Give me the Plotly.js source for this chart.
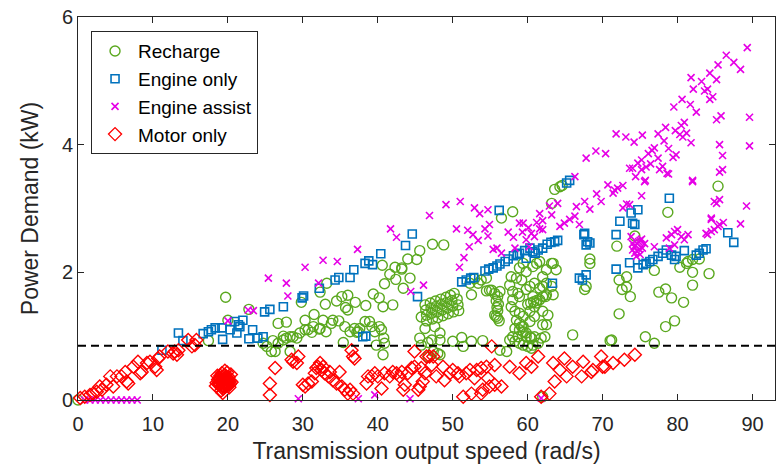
<!DOCTYPE html>
<html>
<head>
<meta charset="utf-8">
<script src="https://cdn.plot.ly/plotly-3.0.1.min.js"></script>
<style>html,body{margin:0;padding:0;background:#fff}#chart{width:776px;height:469px}</style>
</head>
<body>
<div id="chart"></div>
<script>
// ---- Data ----
const seriesNames = ["Recharge", "Engine only", "Engine assist", "Motor only"];
const xTickVals = [0, 10, 20, 30, 40, 50, 60, 70, 80, 90];
const yTickVals = [0, 2, 4, 6];
const thresholdX = [0, 93];
const thresholdY = [0.85, 0.85];

const rechargeX = [0, 19.7, 22.8, 20.0, 17.4,
  24.7, 25.2, 25.8, 26.3, 26.7, 27.4, 27.8, 28.3, 28.7, 29.2, 29.6, 30.3, 30.7, 31.4, 32.3, 33.1, 33.8, 34.8, 35.6, 36.3, 36.9, 37.4, 37.6, 38.3, 38.9, 39.2, 39.6, 40.2, 40.5, 40.8, 40.9, 40.7, 39.8, 28.3, 35.4, 26.0, 27.4, 37.2, 31.2, 32.2,
  26.7, 27.8, 29.8, 30.3, 31.5, 32.7, 33.0, 34.0, 34.5, 35.7, 36.0, 36.0, 35.2, 37.0, 38.4, 39.4, 40.2, 40.7, 42.0, 32.3, 33.2,
  40.6, 41.6, 42.3, 43.2, 44.0, 45.2, 45.6, 47.3, 48.8, 40.9, 42.4, 43.4, 44.3, 43.2,
  46.3, 47.0, 47.7, 48.4, 49.1, 49.7, 50.2,
  46.4, 47.1, 47.8, 48.5, 49.2, 49.9, 50.6,
  46.5, 47.2, 47.9, 48.6, 49.3, 50.0, 50.7,
  46.5, 47.3, 48.0, 48.7, 49.4, 50.1, 50.8,
  45.8, 46.3, 47.6, 48.3, 47.2, 50.0, 51.2, 47.4, 48.0, 48.3, 46.7, 45.6, 46.7, 48.3, 51.4, 52.5, 54.0, 45.8,
  52.3, 52.9, 53.8, 54.5, 52.5, 53.4,
  54.5, 54.9, 55.2, 55.6, 56.0, 56.3, 55.8, 56.1, 55.9, 56.0, 55.6, 55.8, 56.0, 56.2,
  56.3, 57.2, 57.6, 56.5, 58.0,
  57.6, 57.8, 58.5, 59.2, 58.0, 58.7, 58.9, 58.0, 57.8, 58.3, 58.9, 59.4, 58.5, 58.9, 58.3, 58.9, 59.4, 59.8, 60.3, 58.3, 58.9, 59.4, 60.0, 60.5, 60.9, 60.3, 60.9, 60.3, 60.9, 61.2, 61.6, 62.0, 62.5, 60.7, 59.8, 60.3, 60.9, 61.6, 62.5, 62.0, 63.4, 63.8, 63.2, 63.4, 62.5, 60.7,
  60.0, 60.4, 60.8, 61.2, 62.4,
  58.0, 58.7, 59.2, 59.4, 59.8, 60.5, 61.8, 62.3, 61.4, 66.0,
  59.8, 60.7, 58.9, 59.4, 61.2, 61.6, 62.5, 63.2, 62.0, 62.0, 62.7, 62.0,
  62.0, 63.2, 63.6, 64.3, 64.6, 68.3, 67.8, 67.6, 71.2,
  74.3, 71.9, 76.9, 72.2, 73.2, 73.2, 72.6, 73.7, 72.2, 71.0, 75.7, 76.9, 77.5, 78.4, 79.2, 78.4, 79.6, 80.8, 80.3, 81.2, 81.4, 82.0, 82.9, 82.0, 84.2, 82.0, 85.4, 78.7, 68.3];
const rechargeY = [0, 1.61, 1.42, 1.25, 0.93,
  0.89, 0.84, 0.76, 0.76, 0.89, 0.94, 0.97, 0.99, 0.99, 0.97, 1.05, 1.10, 1.10, 1.15, 1.12, 1.07, 1.20, 1.24, 1.15, 1.07, 1.12, 1.07, 1.12, 1.23, 1.23, 1.15, 1.07, 1.15, 1.10, 0.97, 0.89, 0.71, 0.86, 0.76, 0.90, 0.93, 1.00, 1.06, 1.06, 1.11,
  1.20, 1.22, 1.53, 1.25, 1.34, 1.25, 1.50, 1.25, 1.55, 1.45, 1.41, 1.64, 1.62, 1.53, 1.48, 1.66, 1.60, 1.46, 1.49, 1.69, 1.83,
  2.11, 1.97, 2.08, 2.07, 2.21, 2.20, 2.34, 2.44, 2.43, 1.82, 1.89, 1.75, 1.91, 2.05,
  1.49, 1.52, 1.55, 1.58, 1.61, 1.64, 1.67,
  1.41, 1.44, 1.47, 1.50, 1.53, 1.56, 1.58,
  1.33, 1.36, 1.38, 1.41, 1.44, 1.47, 1.49,
  1.24, 1.27, 1.29, 1.32, 1.35, 1.38, 1.40,
  0.86, 1.12, 1.15, 1.05, 0.94, 0.92, 0.98, 0.76, 0.73, 0.71, 0.68, 0.97, 0.90, 0.94, 0.84, 0.92, 0.93, 1.30,
  1.83, 1.90, 1.88, 1.91, 1.65, 1.83,
  1.71, 1.72, 1.72, 1.67, 1.62, 1.70, 1.55, 1.50, 1.45, 1.40, 1.33, 1.31, 1.28, 1.24,
  0.78, 0.76, 0.94, 2.85, 2.95,
  1.80, 1.93, 1.91, 1.88, 1.70, 1.67, 1.62, 1.57, 1.46, 1.39, 1.36, 1.31, 1.25, 1.20, 1.12, 1.10, 1.15, 1.05, 0.99, 0.92, 0.89, 0.86, 0.84, 0.81, 0.99, 1.23, 1.31, 1.39, 1.46, 1.52, 1.57, 1.62, 1.65, 1.62, 1.73, 1.78, 1.83, 1.75, 1.83, 1.39, 2.14, 2.04, 1.78, 1.65, 1.18, 0.86,
  1.50, 1.52, 1.54, 1.56, 1.62,
  0.99, 0.99, 1.15, 1.07, 0.99, 0.97, 0.97, 0.99, 0.89, 1.02,
  2.01, 2.09, 2.07, 2.14, 2.14, 2.17, 2.04, 2.14, 1.93, 1.78, 1.33, 1.18,
  0.05, 3.08, 3.30, 3.34, 3.36, 2.14, 1.78, 1.73, 0.94,
  2.57, 2.41, 2.03, 1.88, 1.93, 1.77, 1.73, 1.62, 1.35, 0.93, 0.99, 0.89, 1.69, 1.74, 1.60, 1.15, 1.24, 1.53, 2.08, 2.14, 2.17, 2.20, 2.21, 2.00, 1.98, 1.80, 3.35, 2.94, 2.21];

const engineOnlyX = [11.2, 13.4, 14.0, 16.7, 17.4, 17.8, 18.3, 19.2, 20.3, 20.9, 21.4, 22.0, 19.3, 21.2, 22.8, 23.3, 24.0, 24.7, 21.6, 24.9, 25.6, 27.4, 29.9, 30.1, 32.2, 34.3, 34.8, 36.3, 36.8, 38.3, 38.8, 39.3, 40.4, 38.0, 38.4, 43.7, 44.6, 45.3, 56.2, 65.2, 65.6,
  51.2, 51.8, 52.4, 52.8, 54.3, 54.8, 55.4, 55.9, 56.3, 57.0, 57.4, 58.1, 58.6, 58.9, 59.6, 59.8, 60.3, 60.7, 61.0, 61.4, 62.0, 62.6, 63.1, 63.6, 64.0, 63.3, 66.9, 67.3, 67.8,
  67.5, 68.0, 67.8, 68.3, 67.6, 71.8, 72.3, 73.8, 74.7, 74.0, 74.3, 73.6, 71.8,
  74.7, 75.4, 75.8, 76.3, 76.7, 77.4, 78.0, 78.5, 79.2, 79.8, 80.9, 79.6, 82.5, 82.9, 83.4, 83.8, 78.9, 86.7, 87.5];
const engineOnlyY = [0.78, 1.05, 0.93, 1.04, 1.07, 1.10, 1.13, 1.13, 1.10, 1.23, 1.18, 1.25, 0.95, 1.05, 0.96, 1.10, 0.97, 0.99, 1.15, 1.38, 1.42, 1.46, 1.60, 1.63, 1.75, 1.88, 1.92, 1.92, 2.04, 2.14, 2.18, 2.12, 2.29, 0.99, 1.00, 2.42, 2.60, 1.62, 2.97, 3.40, 3.44,
  1.85, 1.88, 1.91, 1.92, 2.02, 2.05, 2.07, 2.10, 2.13, 2.17, 2.21, 2.26, 2.28, 2.30, 2.34, 2.22, 2.38, 2.32, 2.30, 2.35, 2.38, 2.44, 2.47, 2.48, 2.50, 1.83, 1.91, 1.88, 1.96,
  2.59, 2.48, 2.43, 2.46, 2.61, 2.59, 2.80, 2.93, 2.98, 2.77, 2.75, 2.15, 2.05,
  2.07, 2.12, 2.14, 2.17, 2.20, 2.25, 2.30, 2.35, 2.27, 2.25, 2.34, 2.20, 2.27, 2.30, 2.35, 2.37, 3.16, 2.62, 2.47];

const assistX = [0.9, 1.6, 2.3, 3.0, 3.7, 4.4, 5.1, 5.8, 6.5, 7.2, 7.9, 29.4, 37.4, 39.6, 44.3, 61.8,
  20.0, 22.7, 23.4, 25.4, 27.8, 28.0, 30.3, 32.1, 32.7, 34.6, 37.3, 41.7, 42.5, 44.4, 46.1, 46.9, 49.1, 50.5, 51.0, 50.9,
  52.9, 53.6, 54.7, 52.0, 52.7, 53.4, 54.3, 54.9, 54.7, 52.2, 51.5,
  55.4, 55.9, 56.5, 57.4, 58.1, 58.9, 59.4, 59.3, 60.1, 60.5, 61.2, 61.6, 62.0, 62.0, 60.9, 59.8, 58.3, 60.2, 62.9, 63.2, 61.6, 64.0,
  64.3, 64.9, 65.6, 66.3, 66.9, 66.5, 67.6, 68.3, 69.2, 69.8, 70.7, 71.6, 72.0, 72.7, 71.4, 73.2, 72.7, 73.6, 75.2, 75.6, 82.0, 66.3, 67.8, 69.1, 70.4,
  73.8, 74.0, 74.2, 74.4, 74.6, 74.8, 75.0, 75.2, 74.0, 74.3, 74.6, 74.9, 75.3, 75.6, 74.5, 75.0,
  76.9, 78.5, 79.2, 79.6, 80.0, 80.5, 80.9, 81.4, 79.6, 78.9,
  84.5, 84.9, 85.2, 85.6, 83.8, 84.5, 84.9, 85.4, 86.1, 85.6, 84.0, 88.4, 89.2, 86.0, 85.6,
  89.3, 86.5, 87.5, 88.4, 85.4, 84.3, 85.2, 81.8, 83.2, 82.1, 83.6, 84.0, 84.7, 84.3, 80.6, 79.5, 81.7, 82.5, 85.8, 85.2, 89.6, 80.9, 80.5, 79.7, 78.4, 77.4, 80.3, 80.7, 81.2, 78.2, 78.8, 81.8, 85.6, 89.6, 86.0,
  79.8, 79.4, 76.9, 76.6, 76.1, 75.2, 77.4, 76.4, 75.8, 78.0, 77.6, 78.6, 78.8, 74.4, 73.6, 75.7, 82.0, 71.8, 73.1, 74.2, 75.3, 74.7, 74.0, 75.2, 84.5];
const assistY = [0, 0, 0, 0, 0, 0, 0, 0, 0, 0, 0, 0.02, 0.02, 0.08, 0.02, 0.03,
  1.24, 1.41, 1.40, 1.91, 1.83, 1.63, 2.08, 1.83, 2.19, 2.17, 2.36, 2.68, 2.55, 1.70, 1.80, 2.89, 3.06, 2.68, 3.11, 2.08,
  3.01, 2.92, 2.98, 2.66, 2.59, 2.50, 2.68, 2.75, 2.57, 2.40, 2.23,
  2.36, 2.38, 2.30, 2.63, 2.55, 2.77, 2.77, 2.63, 2.70, 2.61, 2.78, 2.68, 2.81, 2.67, 2.56, 2.51, 2.38, 2.40, 3.04, 2.90, 2.92, 3.08,
  2.72, 2.77, 2.83, 2.88, 2.75, 3.03, 3.11, 2.99, 3.23, 3.11, 3.37, 3.29, 3.32, 3.36, 3.24, 3.07, 3.01, 3.06, 3.20, 3.42, 3.42, 3.50, 3.79, 3.90, 3.86,
  2.56, 2.45, 2.40, 2.42, 2.45, 2.48, 2.50, 2.52, 2.35, 2.30, 2.33, 2.36, 2.38, 2.45, 2.25, 2.28,
  2.40, 2.54, 2.59, 2.64, 2.67, 2.56, 2.51, 2.59, 2.43, 2.38,
  2.85, 3.11, 3.08, 3.14, 2.61, 2.64, 2.67, 2.72, 2.78, 2.75, 2.59, 2.76, 3.04, 3.61, 3.57,
  5.52, 5.40, 5.29, 5.18, 5.25, 5.12, 5.02, 5.05, 4.99, 4.87, 4.84, 4.87, 4.75, 4.71, 4.71, 4.59, 4.63, 4.51, 4.45, 4.39, 4.43, 4.35, 4.30, 4.22, 4.27, 4.17, 4.16, 4.12, 4.18, 4.06, 3.94, 4.03, 4.00, 3.98, 3.83,
  3.84, 3.80, 3.95, 3.91, 3.86, 3.76, 3.79, 3.70, 3.65, 3.66, 3.61, 3.55, 3.54, 3.50, 3.63, 3.44, 3.44, 4.17, 4.12, 4.04, 4.15, 3.71, 3.63, 3.61, 2.83];

const motorX = [0.3, 0.9, 1.6, 2.0, 2.5, 2.9, 3.2, 3.8, 4.3, 4.7, 5.2, 5.8, 6.3, 6.5, 6.7, 7.4, 8.0, 8.3, 8.5, 9.2, 9.6, 10.3, 10.5, 10.7, 10.9, 12.0, 12.7, 12.9, 13.2, 13.4, 14.7, 15.2, 15.6, 15.8,
  18.4, 18.7, 18.9, 19.0, 19.2, 19.2, 19.4, 19.4, 19.5, 19.6, 19.7, 19.8, 19.9, 20.0, 20.1, 20.2, 20.3, 19.3, 18.6, 20.4, 19.6, 19.1,
  18.5, 18.8, 19.1, 19.3, 19.5, 19.7, 19.9, 20.1, 20.3, 18.9, 19.2, 19.5, 19.8, 20.0, 20.2, 18.7, 19.0, 19.4, 19.8, 20.5,
  26.3, 25.6, 25.6, 28.5, 28.7, 29.4, 29.2, 30.3, 30.0, 30.7, 31.2, 31.6, 31.8, 32.0, 32.3, 32.5, 32.7, 32.9, 33.4, 33.6, 34.0, 34.5, 34.9, 35.2, 35.6, 36.0, 36.3, 36.7, 36.5, 36.7, 36.9,
  38.5, 38.7, 39.2, 39.6, 40.0, 40.5, 40.9, 41.6, 42.0, 42.5, 42.9, 43.2, 43.4, 43.6, 44.0, 44.5, 44.9, 45.4, 45.6, 45.8, 46.0, 46.3, 46.5, 46.9, 44.9,
  47.2, 47.4, 47.8, 48.7, 48.9, 49.6, 50.0, 50.7, 50.9, 51.4, 51.8, 52.3, 52.5, 52.9, 53.2, 53.8, 53.8, 54.0, 54.5, 54.7, 54.9, 55.2, 55.6, 55.6, 56.5, 57.6, 58.9, 59.8, 60.5, 61.4, 61.8, 62.9, 63.4, 63.6, 64.3, 64.9, 65.2, 66.0, 67.2, 67.4, 68.5, 68.7, 69.8, 70.0, 70.3, 71.4, 72.9, 74.3];
const motorY = [0.03, 0.05, 0.08, 0.10, 0.13, 0.21, 0.16, 0.24, 0.37, 0.21, 0.37, 0.37, 0.44, 0.29, 0.26, 0.52, 0.60, 0.42, 0.44, 0.58, 0.60, 0.52, 0.47, 0.65, 0.68, 0.76, 0.73, 0.76, 0.71, 0.78, 0.94, 0.84, 0.86, 0.94,
  0.22, 0.32, 0.24, 0.38, 0.28, 0.42, 0.18, 0.33, 0.26, 0.39, 0.21, 0.31, 0.43, 0.25, 0.36, 0.20, 0.30, 0.11, 0.38, 0.40, 0.46, 0.15,
  0.27, 0.25, 0.30, 0.22, 0.34, 0.27, 0.23, 0.31, 0.26, 0.35, 0.19, 0.21, 0.36, 0.32, 0.24, 0.29, 0.33, 0.37, 0.27, 0.28,
  0.50, 0.26, 0.08, 0.63, 0.60, 0.68, 0.58, 0.21, 0.24, 0.26, 0.29, 0.42, 0.50, 0.52, 0.58, 0.47, 0.52, 0.42, 0.37, 0.44, 0.31, 0.26, 0.44, 0.21, 0.16, 0.10, 0.16, 0.10, 0.78, 0.68, 0.65,
  0.26, 0.37, 0.37, 0.42, 0.37, 0.18, 0.42, 0.37, 0.44, 0.42, 0.37, 0.44, 0.16, 0.24, 0.42, 0.50, 0.52, 0.16, 0.21, 0.50, 0.29, 0.42, 0.68, 0.68, 0.76,
  0.55, 0.68, 0.37, 0.52, 0.31, 0.42, 0.47, 0.42, 0.37, 0.05, 0.42, 0.47, 0.10, 0.34, 0.47, 0.50, 0.10, 0.16, 0.52, 0.34, 0.21, 0.84, 0.55, 0.24, 0.21, 0.52, 0.42, 0.58, 0.52, 0.68, 0.05, 0.10, 0.58, 0.29, 0.47, 0.65, 0.37, 0.52, 0.37, 0.60, 0.44, 0.47, 0.68, 0.52, 0.52, 0.58, 0.63, 0.71];

// ---- Styles ----
const FONT = "Liberation Sans, Arial, Helvetica, sans-serif";
const TXT = "#262626";
const colors = ["#5aa81e", "#0072bd", "#e600e6", "#ff0000"];

const traces = [
  {x: rechargeX, y: rechargeY, name: seriesNames[0], type: "scatter", mode: "markers", cliponaxis: false,
   marker: {symbol: "circle-open", size: 10, color: colors[0], line: {width: 1.4, color: colors[0]}}},
  {x: engineOnlyX, y: engineOnlyY, name: seriesNames[1], type: "scatter", mode: "markers", cliponaxis: false,
   marker: {symbol: "square-open", size: 8, color: colors[1], line: {width: 1.6, color: colors[1]}}},
  {x: assistX, y: assistY, name: seriesNames[2], type: "scatter", mode: "markers", cliponaxis: false,
   marker: {symbol: "x-thin-open", size: 7, color: colors[2], line: {width: 1.6, color: colors[2]}}},
  {x: motorX, y: motorY, name: seriesNames[3], type: "scatter", mode: "markers", cliponaxis: false,
   marker: {symbol: "diamond-open", size: 10, color: colors[3], line: {width: 1.4, color: colors[3]}}},
  {x: thresholdX, y: thresholdY, type: "scatter", mode: "lines", showlegend: false, hoverinfo: "skip",
   line: {color: "#000", width: 2, dash: "8px,5px"}}
];

const axisCommon = {
  showgrid: false, zeroline: false, showline: true, linecolor: TXT, linewidth: 1,
  mirror: "ticks", ticks: "inside", ticklen: 6, tickwidth: 1, tickcolor: TXT,
  tickfont: {family: FONT, size: 20, color: TXT}
};

const layout = {
  width: 776, height: 469,
  margin: {l: 78, r: 1, t: 17, b: 69},
  paper_bgcolor: "#fff", plot_bgcolor: "#fff",
  font: {family: FONT, color: TXT},
  showlegend: true,
  legend: {x: 0.0187, y: 0.963, xanchor: "left", yanchor: "top",
           bgcolor: "#fff", bordercolor: TXT, borderwidth: 1,
           font: {family: FONT, size: 19, color: "#000"}, itemwidth: 36, tracegroupgap: 0},
  xaxis: Object.assign({}, axisCommon, {range: [0, 93], tickvals: xTickVals, ticklabelstandoff: 6,
    title: {text: "Transmission output speed (rad/s)", font: {family: FONT, size: 23, color: TXT}, standoff: 8}}),
  yaxis: Object.assign({}, axisCommon, {range: [0, 6], tickvals: yTickVals,
    title: {text: "Power Demand (kW)", font: {family: FONT, size: 23, color: TXT}, standoff: 16}})
};

Plotly.newPlot("chart", traces, layout, {staticPlot: true, displayModeBar: false});
</script>
</body>
</html>
